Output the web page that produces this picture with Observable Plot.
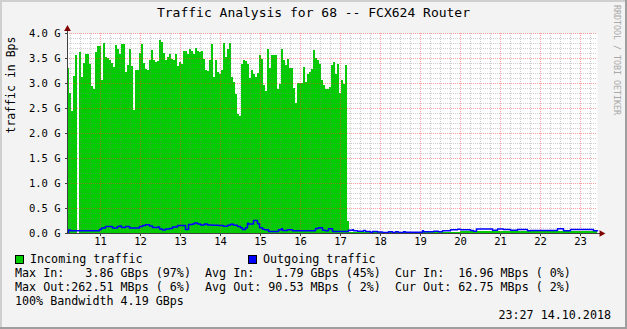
<!DOCTYPE html>
<html>
<head>
<meta charset="utf-8">
<script src="https://cdn.jsdelivr.net/npm/d3@7"></script>
<script src="https://cdn.jsdelivr.net/npm/@observablehq/plot@0.6"></script>
<style>
  html, body { margin: 0; padding: 0; background: #ffffff; }
  #frame { position: relative; width: 627px; height: 329px; background: #f3f3f3; overflow: hidden;
           font-family: "DejaVu Sans Mono", monospace; color: #000; }
  .edge { position: absolute; }
  #title { position: absolute; left: 0; width: 627px; top: 4px; text-align: center; font-size: 13px; line-height: 18px; white-space: pre; }
  #chart { position: absolute; left: 0; top: 24px; }
  .row { position: absolute; font-size: 11.7px; line-height: 14px; white-space: pre; }
  .box { position: absolute; width: 7px; height: 7px; border: 1px solid #000; }
  #mark { position: absolute; left: 612px; top: 5px; writing-mode: vertical-rl; font-size: 8.3px; color: #a8a8a8; white-space: pre; line-height: 10px; }
</style>
</head>
<body>
<div id="frame">
  <div class="edge" style="left:0;top:0;width:627px;height:2px;background:#cfcfcf"></div>
  <div class="edge" style="left:0;top:0;width:2px;height:329px;background:#cfcfcf"></div>
  <div class="edge" style="left:625px;top:0;width:2px;height:329px;background:#9e9e9e"></div>
  <div class="edge" style="left:0;top:327px;width:627px;height:2px;background:#9e9e9e"></div>
  <div id="title"></div>
  <div id="chart"></div>
  <div id="mark"></div>
</div>
<script>
// ---------- data (GBps, time in hours of 14.10.2018) ----------
const titleText = "Traffic Analysis for 68 -- FCX624 Router";
const yLabel = "traffic in Bps";
const hourTicks = [11, 12, 13, 14, 15, 16, 17, 18, 19, 20, 21, 22, 23];
const yTicks = [0, 0.5, 1.0, 1.5, 2.0, 2.5, 3.0, 3.5, 4.0];
const xStart = 10.175, xEnd = 23.425;

// incoming traffic, busy part: one sample every 3 minutes from 10:10:30
const inStart = 10.175, inStep = 0.05;
const inBusy = [
  3.3, 2.8, 2.45, 3.14, 3.56, NaN, 3.63, 3.13, 3.4, 3.58,
  3.58, 3.39, 2.95, 2.88, 3.63, 3.74, 3.74, 3.06, 3.81, 3.53,
  3.5, 3.46, 3.4, 3.33, 3.76, 3.69, 3.58, 3.78, 3.78, 3.23,
  3.36, 3.69, 3.34, 2.47, 3.26, 3.26, 3.61, 3.78, 3.41, 3.28,
  3.26, 3.46, 3.67, 3.46, 3.43, 3.45, 3.86, 3.83, 3.6, 3.46,
  3.52, 3.59, 3.49, 3.46, 3.58, 3.34, 3.43, 3.39, 3.65, 3.65,
  3.59, 3.69, 3.65, 3.58, 3.71, 3.65, 3.63, 3.65, 3.49, 3.26,
  3.25, 3.46, 3.78, 3.13, 3.47, 3.23, 3.19, 3.27, 3.81, 3.53,
  3.69, 3.81, 3.13, 3.03, 2.79, 2.39, 2.34, 3.39, 3.47, 3.45,
  3.39, 3.11, 3.26, 3.19, 3.13, 3.21, 3.56, 3.49, 2.96, 2.85,
  3.68, 3.31, 3.56, 3.56, 3.56, 2.89, 2.99, 3.68, 3.47, 3.36,
  3.49, 3.31, 3.31, 2.9, 2.6, 3.0, 3.01, 3.01, 3.33, 3.03,
  3.18, 3.23, 3.29, 3.66, 3.5, 3.47, 3.39, 3.06, 2.96, 2.89,
  2.89, 2.93, 3.36, 3.43, 3.19, 3.39, 2.81, 3.07, 2.98, 3.36,
  0.25
];
// incoming traffic, quiet part (step starts)
const inQuietTimes  = [17.225, 18.0, 19.0, 20.0, 20.5, 21.0, 22.0, 23.0];
const inQuietValues = [0.03, 0.03, 0.03, 0.04, 0.05, 0.04, 0.04, 0.04];

// outgoing traffic (step starts)
const outTimes = [
  10.175, 10.2, 10.25, 10.975, 11.025, 11.125, 11.3, 11.425, 11.475, 11.525,
  11.625, 11.725, 11.975, 12.05, 12.125, 12.225, 12.3, 12.425, 12.475, 12.55,
  12.625, 12.725, 12.8, 12.925, 13.125, 13.2, 13.3, 13.35, 13.425, 13.5,
  13.6, 13.675, 13.8, 13.95, 14.075, 14.175, 14.25, 14.325, 14.425, 14.5,
  14.55, 14.625, 14.675, 14.7, 14.825, 14.925, 14.975, 15.05, 15.1, 15.2,
  15.45, 15.525, 15.55, 15.675, 15.8, 16.375, 16.45, 16.55, 16.625, 16.7,
  16.8, 17.2, 17.3, 17.325, 17.425, 17.575, 17.625, 17.75, 17.8, 17.925,
  18.05, 18.2, 18.3, 18.375, 18.45, 18.575, 18.625, 19.05, 19.075, 19.325,
  19.45, 19.55, 19.75, 19.925, 20.0, 20.25, 20.325, 20.4, 20.8, 20.925,
  21.075, 21.25, 21.425, 21.675, 21.75, 22.425, 22.575, 22.75, 23.325
];
const outValues = [
  0.01, 0.07, 0.053, 0.08, 0.11, 0.14, 0.11, 0.14, 0.15, 0.12,
  0.14, 0.11, 0.14, 0.16, 0.175, 0.15, 0.12, 0.13, 0.09, 0.07,
  0.09, 0.1, 0.13, 0.16, 0.08, 0.18, 0.19, 0.21, 0.19, 0.17,
  0.19, 0.17, 0.167, 0.16, 0.147, 0.167, 0.187, 0.167, 0.14, 0.113,
  0.08, 0.113, 0.207, 0.19, 0.26, 0.193, 0.113, 0.087, 0.073, 0.04,
  0.073, 0.093, 0.06, 0.073, 0.053, 0.1, 0.113, 0.067, 0.053, 0.093,
  0.04, 0.067, 0.073, 0.053, 0.047, 0.06, 0.04, 0.02, 0.04, 0.03,
  0.02, 0.033, 0.02, 0.033, 0.02, 0.033, 0.027, 0.053, 0.033, 0.047,
  0.033, 0.053, 0.073, 0.087, 0.073, 0.06, 0.047, 0.09, 0.067, 0.09,
  0.08, 0.067, 0.08, 0.053, 0.06, 0.093, 0.053, 0.08, 0.053
];

// legend
const seriesNames  = ["Incoming traffic", "Outgoing traffic"];
const seriesColors = ["#00cc00", "#0000ff"];
const statRows = [
  "Max In:   3.86 GBps (97%)  Avg In:   1.79 GBps (45%)  Cur In:  16.96 MBps ( 0%)",
  "Max Out:262.51 MBps ( 6%)  Avg Out: 90.53 MBps ( 2%)  Cur Out: 62.75 MBps ( 2%)",
  "100% Bandwidth 4.19 GBps"
];
const stampText = "23:27 14.10.2018";
const watermark = "RRDTOOL / TOBI OETIKER";

// ---------- build tables ----------
const inData = inBusy.map((v, i) => ({t1: inStart + i * inStep, t2: inStart + (i + 1) * inStep, v}));
inQuietTimes.forEach((t, i) => inData.push({t1: t, t2: i + 1 < inQuietTimes.length ? inQuietTimes[i + 1] : xEnd, v: inQuietValues[i]}));
const outData = outTimes.map((t, i) => ({t, v: outValues[i]}));
outData.push({t: xEnd, v: outValues[outValues.length - 1]});

const yMax = yTicks[yTicks.length - 1];
const minorX = d3.range(Math.ceil(xStart * 4), Math.floor(xEnd * 4) + 1).map(k => k / 4).filter(h => !Number.isInteger(h));
const minorY = d3.range(1, yMax * 10).map(k => k / 10).filter(v => Math.abs(v * 2 - Math.round(v * 2)) > 1e-6);

const minorColor = "rgba(128,128,128,0.38)";
const majorColor = "rgba(255,60,60,0.5)";
const axisColor = "#404040";
const arrowColor = "#7f0000";

const chart = Plot.plot({
  width: 627, height: 226,
  marginTop: 9, marginBottom: 17, marginLeft: 67, marginRight: 30,
  x: {domain: [xStart, xEnd]},
  y: {domain: [0, yMax]},
  style: {fontFamily: "DejaVu Sans Mono, monospace", fontSize: "10.5px", background: "transparent", overflow: "visible", color: "#000"},
  marks: [
    Plot.frame({fill: "#ffffff", stroke: "none"}),
    Plot.rectY(inData.filter(d => !isNaN(d.v)), {x1: "t1", x2: "t2", y: "v", fill: seriesColors[0], shapeRendering: "crispEdges", inset: 0}),
    Plot.ruleX(minorX, {stroke: minorColor, strokeDasharray: "1,1"}),
    Plot.ruleY(minorY, {stroke: minorColor, strokeDasharray: "1,1"}),
    Plot.ruleX(hourTicks, {stroke: majorColor, strokeDasharray: "1,1"}),
    Plot.ruleY(yTicks.slice(1), {stroke: majorColor, strokeDasharray: "1,1"}),
    Plot.line(outData, {x: "t", y: "v", curve: "step-after", stroke: seriesColors[1], strokeWidth: 1.5}),
    Plot.ruleY([0], {x1: xStart, x2: xEnd + 0.1, stroke: axisColor}),
    Plot.ruleX([xStart], {y1: 0, y2: yMax + 0.06, stroke: axisColor}),
    Plot.dot([{x: xStart, y: yMax + 0.09}], {x: "x", y: "y", symbol: "triangle", r: 2.5, fill: arrowColor, stroke: "none"}),
    Plot.dot([{x: xEnd + 0.1, y: 0}], {x: "x", y: "y", symbol: "triangle", r: 2.5, fill: arrowColor, stroke: "none", rotate: 90}),
    Plot.axisX(hourTicks, {tickSize: 3, tickPadding: 1, tickFormat: d => String(d), label: null, stroke: axisColor}),
    Plot.axisY(yTicks, {tickSize: 2, tickPadding: 5, tickFormat: d => d.toFixed(1) + " G", label: null, stroke: axisColor}),
    Plot.text([yLabel], {frameAnchor: "left", rotate: -90, dx: -56, fontSize: 11.5, fill: "#000"})
  ]
});
document.getElementById("chart").appendChild(chart);
document.getElementById("title").textContent = titleText;
document.getElementById("mark").textContent = watermark;

// legend rows
const frame = document.getElementById("frame");
function addRow(text, left, top) {
  const d = document.createElement("div");
  d.className = "row"; d.style.left = left + "px"; d.style.top = top + "px"; d.textContent = text;
  frame.appendChild(d); return d;
}
function addBox(color, left, top) {
  const b = document.createElement("div");
  b.className = "box"; b.style.left = left + "px"; b.style.top = top + "px"; b.style.background = color;
  frame.appendChild(b);
}
addBox(seriesColors[0], 15, 255);
addRow(seriesNames[0], 30, 252);
addBox(seriesColors[1], 248, 255);
addRow(seriesNames[1], 263, 252);
statRows.forEach((r, i) => addRow(r, 15, 266 + 14 * i));
const st = addRow(stampText, 0, 308);
st.style.left = "auto"; st.style.right = "16px";
</script>
</body>
</html>
